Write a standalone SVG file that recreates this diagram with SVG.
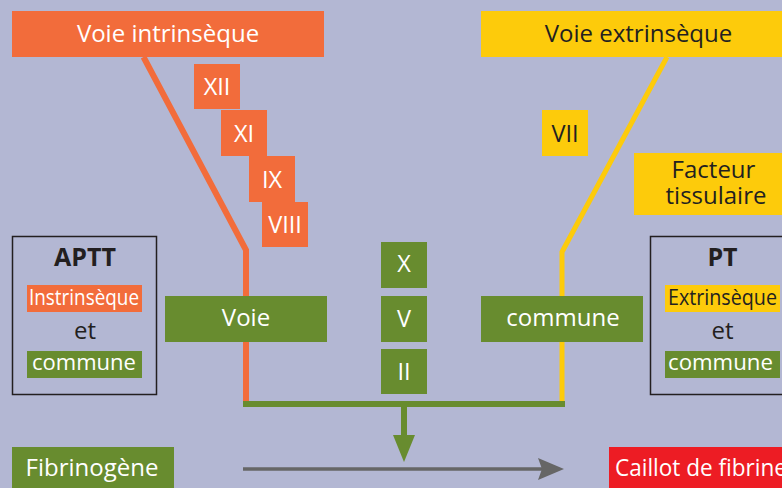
<svg xmlns="http://www.w3.org/2000/svg" width="782" height="488" viewBox="0 0 782 488">
  <style>
    text { font-family: "Open Sans", "Noto Sans", "Liberation Sans", sans-serif; text-anchor: middle; }
    .big { font-size: 24px; }
    .num { font-size: 23.5px; }
    .small { font-size: 22px; }
    .w { fill: #ffffff; }
    .d { fill: #231f20; }
    .orange { fill: #f26c3b; }
    .yellow { fill: #fdcb0b; }
    .green { fill: #688c2f; }
    .red { fill: #ed1c24; }
    .frame { fill: none; stroke: #231f20; stroke-width: 1.5; }
  </style>

  <rect width="782" height="488" fill="#b3b7d3"/>

  <!-- pathway lines (drawn under the labels) -->
  <g id="connectors">
    <polyline points="143.5,57 246,250 246,404" fill="none" stroke="#f26c3b" stroke-width="6"/>
    <polyline points="667,57 562,252 562,404" fill="none" stroke="#fdcb0b" stroke-width="5"/>
    <line x1="243" y1="404" x2="565" y2="404" stroke="#688c2f" stroke-width="6"/>
    <line x1="404" y1="404" x2="404" y2="438" stroke="#688c2f" stroke-width="6"/>
    <path d="M393,435 L415,435 L404,462 Z" fill="#688c2f"/>
    <line x1="243" y1="469" x2="542" y2="469" stroke="#666666" stroke-width="3.5"/>
    <path d="M538,458 L564,469 L538,480 L542,469 Z" fill="#666666"/>
  </g>

  <g id="voie-intrinseque">
    <rect class="orange" x="12" y="11" width="312" height="46"/>
    <text class="big w" x="168" y="42">Voie intrinsèque</text>
  </g>
  <g id="voie-extrinseque">
    <rect class="yellow" x="481" y="11" width="320" height="46"/>
    <text class="big d" x="638.5" y="42">Voie extrinsèque</text>
  </g>

  <g id="f12"><rect class="orange" x="194" y="64" width="46" height="45"/><text class="num w" x="217" y="95">XII</text></g>
  <g id="f11"><rect class="orange" x="221" y="110" width="46" height="46"/><text class="num w" x="244" y="141.5">XI</text></g>
  <g id="f9"><rect class="orange" x="249" y="156" width="46" height="46"/><text class="num w" x="272" y="187.5">IX</text></g>
  <g id="f8"><rect class="orange" x="262" y="202" width="46" height="45"/><text class="num w" x="285" y="232.5">VIII</text></g>

  <g id="f7"><rect class="yellow" x="542" y="110" width="46" height="46"/><text class="num d" x="565" y="141.5">VII</text></g>
  <g id="facteur-tissulaire">
    <rect class="yellow" x="634" y="153" width="160" height="62"/>
    <text class="big d" x="713.5" y="178">Facteur</text>
    <text class="big d" x="716" y="204">tissulaire</text>
  </g>

  <g id="f10"><rect class="green" x="381" y="242" width="46" height="46"/><text class="num w" x="404" y="272">X</text></g>
  <g id="f5"><rect class="green" x="381" y="296" width="46" height="46"/><text class="num w" x="404" y="326.5">V</text></g>
  <g id="f2"><rect class="green" x="381" y="349" width="46" height="45"/><text class="num w" x="404" y="380">II</text></g>

  <g id="voie-commune-1">
    <rect class="green" x="165" y="296" width="162" height="46"/>
    <text class="big w" x="246" y="326">Voie</text>
  </g>
  <g id="voie-commune-2">
    <rect class="green" x="481" y="296" width="162" height="46"/>
    <text class="big w" x="563" y="326">commune</text>
  </g>

  <g id="aptt">
    <rect class="frame" x="12.5" y="236.5" width="144" height="158"/>
    <text class="d" x="85" y="265.5" font-size="25" font-weight="bold">APTT</text>
    <rect class="orange" x="27" y="285" width="115" height="27"/>
    <text class="small w" x="84" y="305" textLength="110" lengthAdjust="spacingAndGlyphs">Instrinsèque</text>
    <text class="d" x="85" y="339" font-size="24">et</text>
    <rect class="green" x="27" y="351" width="115" height="27"/>
    <text class="small w" x="84" y="370" textLength="104" lengthAdjust="spacingAndGlyphs">commune</text>
  </g>

  <g id="pt">
    <rect class="frame" x="650.5" y="236.5" width="150" height="158"/>
    <text class="d" x="722.5" y="265.5" font-size="25" font-weight="bold">PT</text>
    <rect class="yellow" x="665" y="285" width="115" height="27"/>
    <text class="small d" x="722.5" y="305" textLength="109" lengthAdjust="spacingAndGlyphs">Extrinsèque</text>
    <text class="d" x="722.5" y="339" font-size="24">et</text>
    <rect class="green" x="665" y="351" width="115" height="27"/>
    <text class="small w" x="720.5" y="370" textLength="105" lengthAdjust="spacingAndGlyphs">commune</text>
  </g>

  <g id="fibrinogene">
    <rect class="green" x="12" y="447" width="162" height="50"/>
    <text class="big w" x="92" y="476">Fibrinogène</text>
  </g>
  <g id="caillot">
    <rect class="red" x="609" y="447" width="200" height="50"/>
    <text class="big w" x="615" y="476" style="text-anchor:start" textLength="172" lengthAdjust="spacingAndGlyphs">Caillot de fibrine</text>
  </g>
</svg>
